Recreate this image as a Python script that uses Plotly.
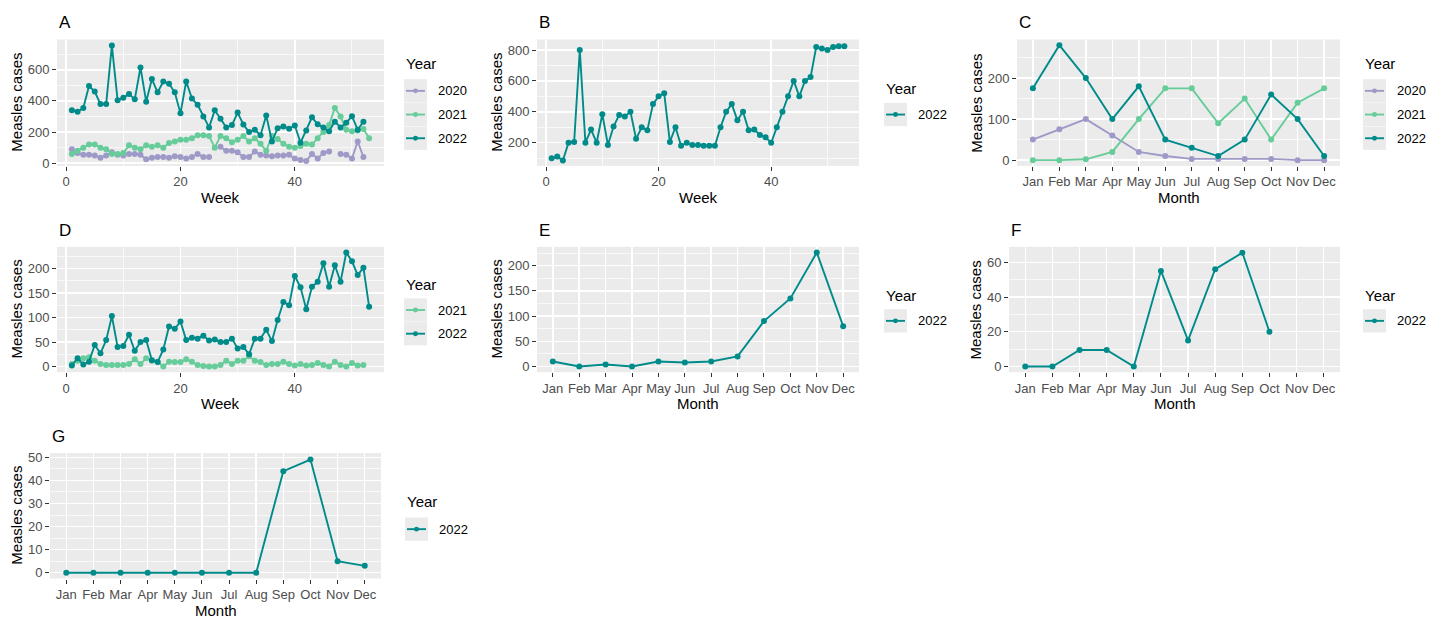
import plotly.graph_objects as go

W, H = 1438, 623

# ---------------- data ----------------
weeks52 = list(range(1, 53))
weeks53 = list(range(1, 54))
months = ["Jan", "Feb", "Mar", "Apr", "May", "Jun", "Jul", "Aug", "Sep", "Oct", "Nov", "Dec"]
month_idx = list(range(1, 13))

A_2020 = [90, 65, 55, 55, 50, 35, 50, 70, 55, 50,
          60, 60, 55, 25, 35, 40, 40, 35, 45, 40,
          30, 40, 60, 40, 40, None, 105, 80, 80, 70,
          40, 40, 75, 55, 50, 45, 50, 50, 55, 30,
          20, 15, 60, 30, 65, 75, None, 60, 55, 30,
          140, 40]
A_2021 = [60, 80, 100, 120, 120, 100, 90, 60, 60, 65,
          115, 100, 90, 115, 105, 115, 100, 130, 140, 150,
          150, 160, 180, 180, 175, 100, 175, 160, 135, 150,
          175, 140, 160, 125, 80, 175, 155, 125, 105, 100,
          110, 125, 120, 160, 200, 245, 355, 300, 215, 205,
          210, 220, 160]
A_2022 = [340, 330, 355, 495, 460, 380, 380, 755, 405, 420,
          445, 410, 615, 395, 540, 455, 525, 510, 455, 320,
          525, 415, 375, 300, 230, 340, 285, 230, 245, 325,
          248, 200, 215, 180, 307, 140, 225, 236, 222, 242,
          132, 210, 295, 250, 230, 205, 267, 230, 260, 302,
          215, 267]

B_2022 = [100, 110, 85, 200, 205, 800, 200, 285, 200, 385,
          185, 305, 380, 370, 400, 225, 300, 280, 450, 500,
          520, 205, 300, 180, 200, 185, 185, 180, 180, 180,
          300, 400, 450, 345, 400, 280, 285, 250, 235, 200,
          300, 400, 500, 600, 500, 600, 625, 820, 810, 800,
          820, 825, 825]

C_2020 = [50, 75, 100, 60, 20, 10, 3, 3, 3, 3, 0, 0]
C_2021 = [0, 0, 2, 20, 100, 175, 175, 90, 150, 50, 140, 175]
C_2022 = [175, 280, 200, 100, 180, 50, 30, 10, 50, 160, 100, 10]

D_2021 = [5, 12, 17, 19, 12, 5, 3, 3, 3, 3,
          5, 15, 5, 17, 12, 10, 0, 10, 9, 9,
          15, 10, 3, 1, 0, 0, 3, 12, 5, 12,
          12, 21, 12, 9, 3, 5, 5, 10, 5, 2,
          5, 2, 3, 7, 3, 0, 10, 3, 0, 7,
          2, 3]
D_2022 = [2, 17, 4, 10, 44, 27, 54, 103, 40, 42,
          65, 32, 50, 54, 13, 9, 35, 82, 77, 92,
          54, 59, 57, 63, 53, 55, 50, 50, 57, 37,
          40, 25, 57, 57, 75, 52, 95, 132, 125, 185,
          162, 117, 163, 173, 211, 163, 207, 173, 233, 215,
          187, 202, 122]

E_2022 = [10, 0, 4, 0, 10, 8, 10, 20, 90, 135, 226, 80]
F_2022 = [0, 0, 9.5, 9.5, 0, 55, 15, 56, 65.5, 20, None, None]
G_2022 = [0, 0, 0, 0, 0, 0, 0, 0, 44, 49, 5, 3]

COL = {"2020": "#9E9AC8", "2021": "#66CC99", "2022": "#008B8B"}

FONT = "Liberation Sans, Arial, sans-serif"
TICK_FONT = dict(family=FONT, size=13, color="#4D4D4D")

# ---------------- layout spec ----------------
panels = [
    dict(letter="A", xd=(57, 384), yd=(37, 165), xtype="week", xr=(-1.6, 55.6), yr=(-17, 794),
         yt=[0, 200, 400, 600], ym=[100, 300, 500, 700],
         series=[("2020", weeks52, A_2020), ("2021", weeks53, A_2021), ("2022", weeks52, A_2022)],
         leg=dict(kl=404, ty=62, ys=[89, 113, 137])),
    dict(letter="B", xd=(537, 859), yd=(37, 165), xtype="week", xr=(-1.6, 55.6), yr=(50, 868),
         yt=[200, 400, 600, 800], ym=[100, 300, 500, 700],
         series=[("2022", weeks53, B_2022)],
         leg=dict(kl=884, ty=88, ys=[113])),
    dict(letter="C", xd=(1017, 1340), yd=(37, 165), xtype="month", xr=(0.4, 12.6), yr=(-14, 294),
         yt=[0, 100, 200], ym=[50, 150, 250],
         series=[("2020", month_idx, C_2020), ("2021", month_idx, C_2021), ("2022", month_idx, C_2022)],
         leg=dict(kl=1363, ty=62, ys=[89, 113, 137])),
    dict(letter="D", xd=(57, 384), yd=(247, 374), xtype="week", xr=(-1.6, 55.6), yr=(-11.6, 244.6),
         yt=[0, 50, 100, 150, 200], ym=[25, 75, 125, 175, 225],
         series=[("2021", weeks52, D_2021), ("2022", weeks53, D_2022)],
         leg=dict(kl=404, ty=286, ys=[311, 335])),
    dict(letter="E", xd=(537, 859), yd=(247, 374), xtype="month", xr=(0.4, 12.6), yr=(-11.3, 237.3),
         yt=[0, 50, 100, 150, 200], ym=[25, 75, 125, 175, 225],
         series=[("2022", month_idx, E_2022)],
         leg=dict(kl=884, ty=297, ys=[322])),
    dict(letter="F", xd=(1009, 1340), yd=(247, 374), xtype="month", xr=(0.4, 12.6), yr=(-3.3, 68.9),
         yt=[0, 20, 40, 60], ym=[10, 30, 50],
         series=[("2022", month_idx, F_2022)],
         leg=dict(kl=1363, ty=297, ys=[322])),
    dict(letter="G", xd=(50, 381), yd=(456, 583), xtype="month", xr=(0.4, 12.6), yr=(-2.5, 51.8),
         yt=[0, 10, 20, 30, 40, 50], ym=[5, 15, 25, 35, 45],
         series=[("2022", month_idx, G_2022)],
         leg=dict(kl=405, ty=506, ys=[533])),
]


def fx(p):
    return p / W


def fy(p):
    return 1 - p / H


fig = go.Figure()
layout = {}
annotations = []
shapes = []

for i, p in enumerate(panels, start=1):
    xa = "x" if i == 1 else f"x{i}"
    ya = "y" if i == 1 else f"y{i}"
    for year, xs, ys in p["series"]:
        fig.add_trace(go.Scatter(
            x=xs, y=ys, mode="lines+markers", name=year,
            line=dict(color=COL[year], width=1.9),
            marker=dict(color=COL[year], size=6),
            connectgaps=False, showlegend=False, hoverinfo="skip",
            xaxis=xa, yaxis=ya))

    xaxis = dict(domain=[fx(p["xd"][0]), fx(p["xd"][1])], anchor=ya,
                 range=list(p["xr"]), showgrid=True, gridcolor="white", gridwidth=1.5,
                 zeroline=False, showline=False, ticks="outside", ticklen=4,
                 tickcolor="#333333", tickwidth=1, tickfont=TICK_FONT, fixedrange=True)
    if p["xtype"] == "week":
        xaxis.update(tickmode="array", tickvals=[0, 20, 40], ticktext=["0", "20", "40"],
                     minor=dict(tickmode="array", tickvals=[10, 30, 50], showgrid=True,
                                gridcolor="white", gridwidth=0.7, ticks=""))
        xtitle = "Week"
    else:
        xaxis.update(tickmode="array", tickvals=month_idx, ticktext=months)
        xtitle = "Month"
    yaxis = dict(domain=[fy(p["yd"][1]), fy(p["yd"][0])], anchor=xa,
                 range=list(p["yr"]), showgrid=True, gridcolor="white", gridwidth=1.5,
                 zeroline=False, showline=False, ticks="outside", ticklen=4,
                 tickcolor="#333333", tickwidth=1, tickfont=TICK_FONT,
                 tickmode="array", tickvals=p["yt"], ticktext=[str(v) for v in p["yt"]],
                 minor=dict(tickmode="array", tickvals=p["ym"], showgrid=True,
                            gridcolor="white", gridwidth=0.7, ticks=""),
                 fixedrange=True)
    layout["xaxis" if i == 1 else f"xaxis{i}"] = xaxis
    layout["yaxis" if i == 1 else f"yaxis{i}"] = yaxis

    x0, x1 = p["xd"]
    y0, y1 = p["yd"]
    # panel letter
    annotations.append(dict(text=p["letter"], xref="paper", yref="paper",
                            x=fx(x0), y=fy(y0 - 17), xanchor="left", yanchor="middle",
                            showarrow=False, font=dict(family=FONT, size=17, color="black")))
    # x title
    annotations.append(dict(text=xtitle, xref="paper", yref="paper",
                            x=fx((x0 + x1) / 2), y=fy(y1 + 32), xanchor="center", yanchor="middle",
                            showarrow=False, font=dict(family=FONT, size=15, color="black")))
    # y title
    annotations.append(dict(text="Measles cases", xref="paper", yref="paper",
                            x=fx(x0 - 40 if p["xtype"] == "week" or p["yt"][-1] >= 100 else x0 - 33),
                            y=fy((y0 + y1) / 2), xanchor="center", yanchor="middle", textangle=-90,
                            showarrow=False, font=dict(family=FONT, size=15, color="black")))

    # legend (ggplot style)
    lg = p["leg"]
    kl = lg["kl"]
    annotations.append(dict(text="Year", xref="paper", yref="paper",
                            x=fx(kl), y=fy(lg["ty"] - 1), xanchor="left", yanchor="middle",
                            showarrow=False, font=dict(family=FONT, size=15, color="black")))
    for (year, _, _), cy in zip(p["series"], lg["ys"]):
        shapes.append(dict(type="rect", xref="paper", yref="paper",
                           x0=fx(kl), x1=fx(kl + 23), y0=fy(cy + 11.8), y1=fy(cy - 11.8),
                           fillcolor="#EBEBEB", line=dict(width=0), layer="below"))
        shapes.append(dict(type="line", xref="paper", yref="paper",
                           x0=fx(kl + 2), x1=fx(kl + 21), y0=fy(cy), y1=fy(cy),
                           line=dict(color=COL[year], width=1.9)))
        shapes.append(dict(type="circle", xref="paper", yref="paper",
                           x0=fx(kl + 9), x1=fx(kl + 14), y0=fy(cy + 2.5), y1=fy(cy - 2.5),
                           fillcolor=COL[year], line=dict(width=0)))
        annotations.append(dict(text=year, xref="paper", yref="paper",
                                x=fx(kl + 32), y=fy(cy), xanchor="left", yanchor="middle",
                                showarrow=False, font=dict(family=FONT, size=13, color="black")))

fig.update_layout(
    width=W, height=H, autosize=False,
    margin=dict(l=0, r=0, t=0, b=0),
    paper_bgcolor="white", plot_bgcolor="#EBEBEB",
    showlegend=False,
    annotations=annotations, shapes=shapes,
    font=dict(family=FONT),
    **layout)

fig.write_html("out.html",
               config={"displayModeBar": False, "staticPlot": True},
               post_script="document.body.style.margin='0px';document.body.style.padding='0px';document.body.style.overflow='hidden';")
